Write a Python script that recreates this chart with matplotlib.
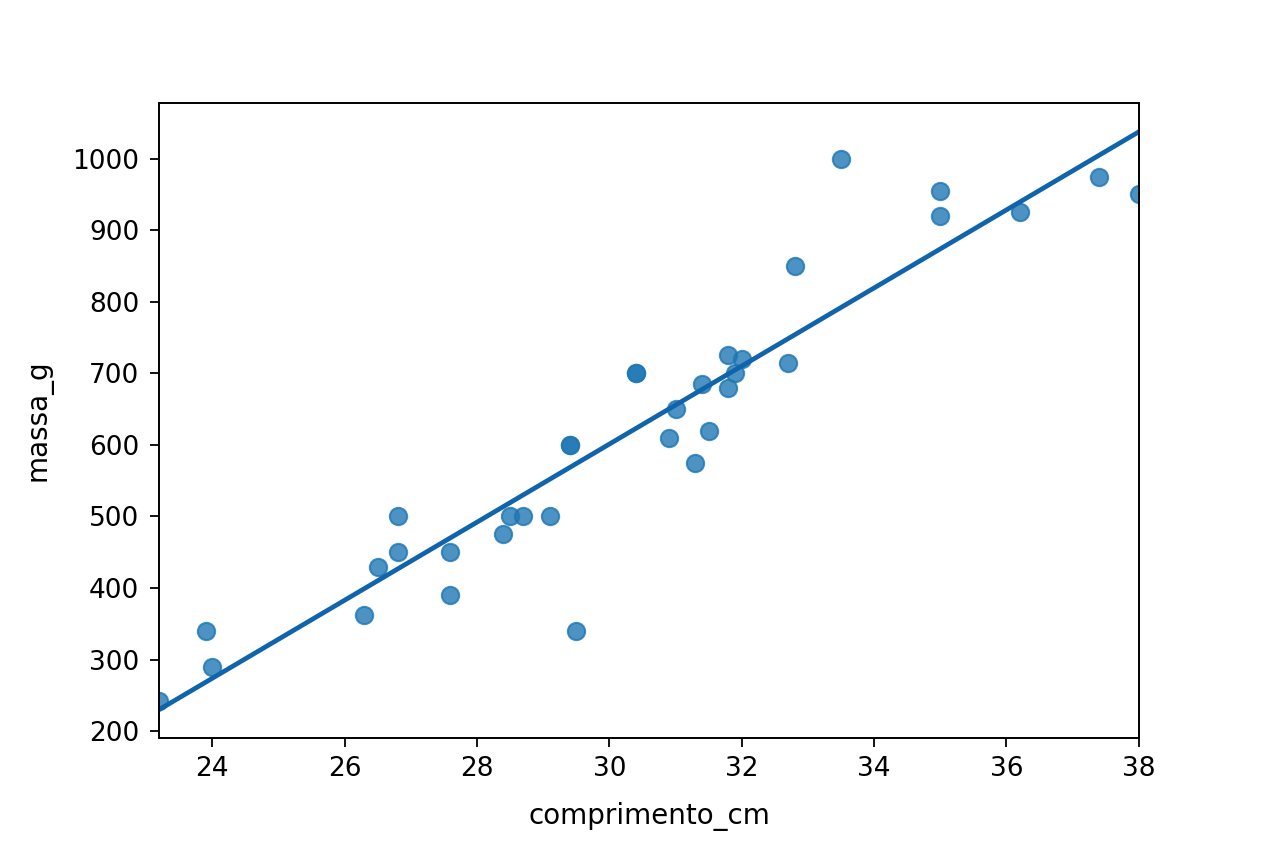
import numpy as np
import pandas as pd
import seaborn as sns
import matplotlib.pyplot as plt

# data
comprimento_cm = [
    23.2, 23.9, 24.0, 26.3, 26.5, 26.8, 26.8, 27.6, 27.6, 28.4,
    28.5, 28.7, 29.1, 29.4, 29.4, 29.5, 30.4, 30.4, 30.9, 31.0,
    31.3, 31.4, 31.5, 31.8, 31.8, 31.9, 32.0, 32.7, 32.8, 33.5,
    35.0, 35.0, 36.2, 37.4, 38.0,
]
massa_g = [
    242, 340, 290, 363, 430, 500, 450, 450, 390, 475,
    500, 500, 500, 600, 600, 340, 700, 700, 610, 650,
    575, 685, 620, 725, 680, 700, 720, 714, 850, 1000,
    955, 920, 925, 975, 950,
]

df = pd.DataFrame({"comprimento_cm": comprimento_cm, "massa_g": massa_g})

plt.rcParams["font.family"] = ["DejaVu Sans"]

fig = plt.figure(figsize=(12.64, 8.43), dpi=100)
ax = fig.add_axes([0.126, 0.125, 0.775, 0.753])

# scatter + fitted line (no confidence band)
sns.regplot(
    data=df,
    x="comprimento_cm",
    y="massa_g",
    ci=None,
    ax=ax,
    scatter_kws={"s": 155, "alpha": 0.8, "linewidths": 1.5},
    line_kws={"linewidth": 3.4, "color": "#0f64ac"},
)

ax.set_xlim(23.2, 38)
ax.set_ylim(191, 1078)
ax.set_xticks([24, 26, 28, 30, 32, 34, 36, 38])
ax.set_yticks([200, 300, 400, 500, 600, 700, 800, 900, 1000])

ax.tick_params(labelsize=19, length=6.5, width=1.3)
ax.tick_params(axis="y", pad=8)
ax.tick_params(axis="x", pad=7)
ax.set_xlabel("comprimento_cm", fontsize=20, labelpad=14)
ax.set_ylabel("massa_g", fontsize=20, labelpad=14)
for sp in ax.spines.values():
    sp.set_linewidth(1.4)

fig.savefig("out.png", dpi=100)
